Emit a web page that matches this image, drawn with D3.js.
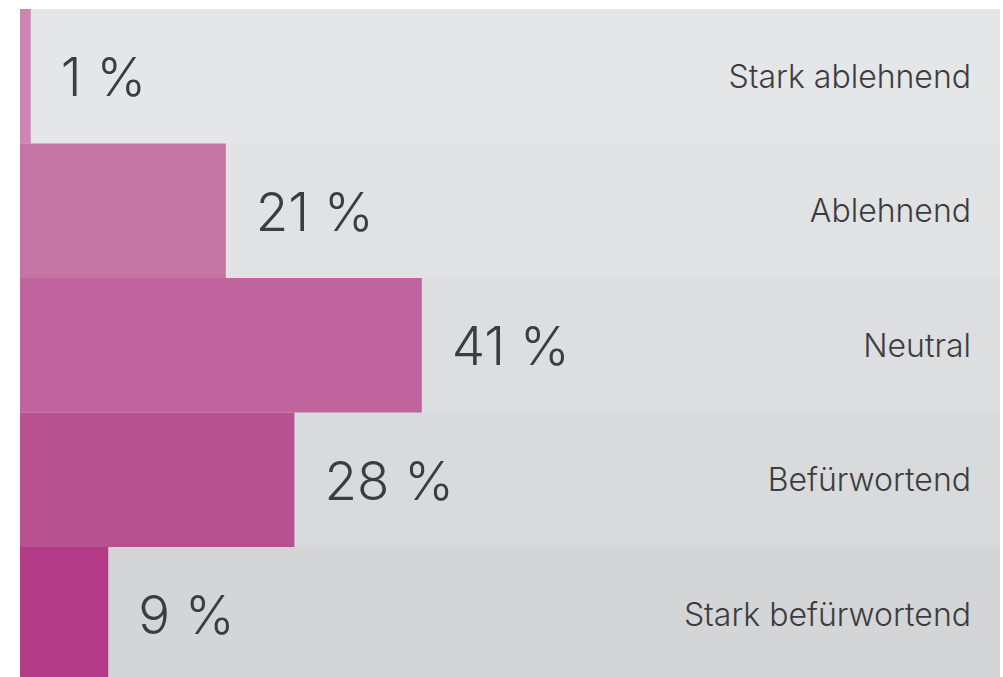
<!DOCTYPE html>
<html>
<head>
<meta charset="utf-8">
<script src="https://cdn.jsdelivr.net/npm/d3@7"></script>
<style>
  body { margin: 0; background: #fff; }
  svg { display: block; }
</style>
</head>
<body>
<script>
var categories = ["Stark ablehnend", "Ablehnend", "Neutral", "Befürwortend", "Stark befürwortend"];
var values = [1.1, 21, 41, 28, 9];
var labels = ["1 %", "21 %", "41 %", "28 %", "9 %"];
var barColors = ["#cd86b1", "#c475a3", "#bf649c", "#b85190", "#b33a87"];
var bgColors = ["#e5e6e8", "#e1e2e4", "#dddee0", "#d9dadc", "#d4d5d7"];

var width = 1003, height = 677;
var margin = {top: 9, left: 20, right: 3};
var rowH = 134.5;

var svg = d3.select("body").append("svg")
    .attr("width", width)
    .attr("height", height);

var x = d3.scaleLinear()
    .domain([0, 100])
    .range([margin.left, width - margin.right]);

var y = d3.scaleBand()
    .domain(categories)
    .range([margin.top, margin.top + rowH * categories.length])
    .padding(0);

var rows = svg.selectAll("g.row")
    .data(categories)
    .enter().append("g")
    .attr("class", "row");

// background band
rows.append("rect")
    .attr("x", x(0))
    .attr("y", function(d) { return y(d); })
    .attr("width", x(100) - x(0))
    .attr("height", y.bandwidth() + 0.5)
    .attr("fill", function(d, i) { return bgColors[i]; });

// bar
rows.append("rect")
    .attr("x", x(0))
    .attr("y", function(d) { return y(d); })
    .attr("width", function(d, i) { return x(values[i]) - x(0); })
    .attr("height", y.bandwidth() + 0.5)
    .attr("fill", function(d, i) { return barColors[i]; });

// value labels
rows.append("text")
    .attr("x", function(d, i) { return x(values[i]) + 30; })
    .attr("y", function(d) { return y(d) + y.bandwidth() / 2 + 20; })
    .attr("font-family", "Inter, sans-serif")
    .attr("font-weight", 300)
    .attr("font-size", "53px")
    .attr("fill", "#3d3d3f")
    .text(function(d, i) { return labels[i]; });

// category labels
rows.append("text")
    .attr("x", 971)
    .attr("y", function(d) { return y(d) + y.bandwidth() / 2 + 11.5; })
    .attr("text-anchor", "end")
    .attr("font-family", "Inter, sans-serif")
    .attr("font-weight", 300)
    .attr("font-size", "32px")
    .attr("fill", "#3d3d3f")
    .text(function(d) { return d; });
</script>
</body>
</html>
